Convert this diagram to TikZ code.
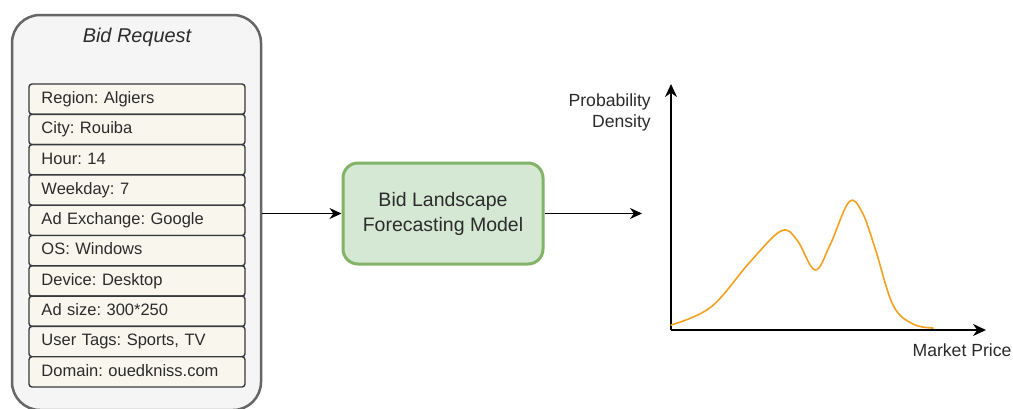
\documentclass[tikz,border=0pt]{standalone}
\usepackage{fontspec}
\setmainfont{Liberation Sans}
\usetikzlibrary{arrows.meta}
\frenchspacing
\definecolor{outerfill}{HTML}{F5F5F5}
\definecolor{outerline}{HTML}{666666}
\definecolor{fieldfill}{HTML}{F9F7ED}
\definecolor{fieldline}{HTML}{36393D}
\definecolor{modelfill}{HTML}{D5E8D4}
\definecolor{modelline}{HTML}{82B366}
\definecolor{txt}{HTML}{2B2B2B}
\definecolor{curve}{HTML}{F5A020}
\tikzset{
  field/.style={draw=fieldline, fill=fieldfill, line width=1.4pt, rounded corners=3pt,
    minimum height=30.3pt, text width=191pt, inner xsep=12.5pt, align=left,
    text height=12pt, text depth=3.5pt, text=txt,
    font=\fontsize{16.5}{19.8}\selectfont\frenchspacing},
  outerbox/.style={draw=outerline, fill=outerfill, line width=2.5pt, rounded corners=28pt,
    minimum width=249pt, minimum height=395pt, inner sep=0pt},
  modelbox/.style={draw=modelline, fill=modelfill, line width=3pt, rounded corners=15pt,
    minimum width=200pt, minimum height=101pt, align=center, text=txt,
    font=\fontsize{19.5}{25}\selectfont},
  conn/.style={draw=black, line width=1.6pt, -{Stealth[length=12pt,width=11pt]}},
  axis/.style={draw=black, line width=2pt, -{Stealth[length=13pt,width=12pt]}},
  lbl/.style={text=txt, font=\fontsize{17.6}{21}\selectfont, inner sep=0pt},
}
\begin{document}
\begin{tikzpicture}[x=1pt, y=-1pt]
\clip (0,0) rectangle (1013,408);
\fill[white] (0,0) rectangle (1013,408);

% Bid request container
\node[outerbox] (req) at (136.5,212.5) {};
\node[text=txt, font=\fontsize{19.9}{24}\selectfont\itshape, inner sep=0pt] (title) at (137,37) {Bid Request};

\node[field] (f1) at (137,99.15) {Region: Algiers};
\node[field] (f2) at (137,129.45) {City: Rouiba};
\node[field] (f3) at (137,159.75) {Hour: 14};
\node[field] (f4) at (137,190.05) {Weekday: 7};
\node[field] (f5) at (137,220.35) {Ad Exchange: Google};
\node[field] (f6) at (137,250.65) {OS: Windows};
\node[field] (f7) at (137,280.95) {Device: Desktop};
\node[field] (f8) at (137,311.25) {Ad size: 300*250};
\node[field] (f9) at (137,341.55) {User Tags: Sports, TV};
\node[field] (f10) at (137,371.85) {Domain: ouedkniss.com};

% Model
\node[modelbox] (model) at (443,213.5) {Bid Landscape\\Forecasting Model};

\coordinate (out) at (642,213.5);
\draw[conn] (req.east |- model.west) -- (model.west);
\draw[conn] (model.east) -- (out);

% Chart
\coordinate (origin) at (671,330);
\coordinate (ytop) at (671,84);
\coordinate (xend) at (986,330);
\draw[axis] (origin) -- (ytop);
\draw[axis] (origin) -- (xend);

\node[lbl, anchor=east, align=right] (ylab) at (651,112.5) {Probability\\Density};
\node[lbl] (xlab) at (962,350) {Market Price};

\draw[curve, line width=1.6pt, line cap=round]
  plot[smooth, tension=0.6] coordinates {
    (671,325) (711,307) (750,262) (781,231) (797,240) (815,270) (830,245) (849,202) (862,212) (875,248) (893,305) (913,324) (933,328)};
\end{tikzpicture}
\end{document}
